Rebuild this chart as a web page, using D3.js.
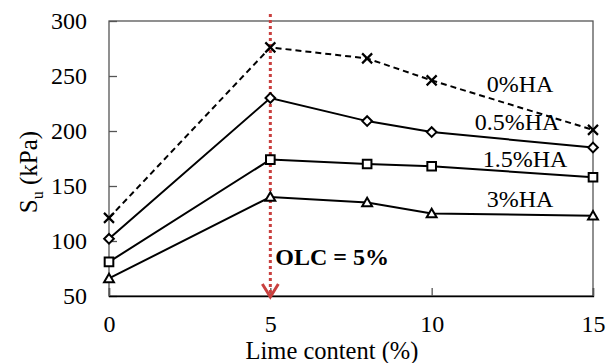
<!DOCTYPE html>
<html><head><meta charset="utf-8">
<script src="https://cdn.jsdelivr.net/npm/d3@7"></script>
<style>body{margin:0;background:#fff}svg{display:block}</style>
</head><body>
<svg id="c" width="616" height="363"></svg>
<script>
const limeContent = [0, 5, 8, 10, 15];
const ha0 = [121, 276, 266, 246, 201];
const ha05 = [102, 230, 209, 199, 185];
const ha15 = [81, 174, 170, 168, 158];
const ha3 = [66, 140, 135, 125, 123];
const seriesNames = ["0%HA", "0.5%HA", "1.5%HA", "3%HA"];
const xTicks = [0, 5, 10, 15];
const yTicks = [50, 100, 150, 200, 250, 300];
const olc = 5;

const FONT = "'Liberation Serif', 'Times New Roman', Tinos, serif";
const svg = d3.select("#c");
const x = d3.scaleLinear().domain([0, 15]).range([109, 593]);
const y = d3.scaleLinear().domain([50, 300]).range([296, 21]);
const fs = 24;

// frame
svg.append("rect").attr("x", x(0)).attr("y", y(300)).attr("width", x(15) - x(0)).attr("height", y(50) - y(300))
  .attr("fill", "none").attr("stroke", "#555").attr("stroke-width", 1.3);

// y axis
const yAxis = d3.axisLeft(y).tickValues(yTicks).tickSize(-8).tickPadding(22).tickFormat(d3.format("d"));
const gy = svg.append("g").attr("transform", `translate(${x(0)},0)`).call(yAxis);
gy.select(".domain").remove();
gy.selectAll("line").attr("stroke", "#555").attr("stroke-width", 1.3);
gy.selectAll("text").style("font-size", fs + "px").style("font-family", FONT).attr("fill", "#000");

// x axis
const xAxis = d3.axisBottom(x).tickValues(xTicks).tickSize(-8).tickPadding(19).tickFormat(d3.format("d"));
const gx = svg.append("g").attr("transform", `translate(0,${y(50)})`).call(xAxis);
gx.select(".domain").attr("stroke", "#000").attr("stroke-width", 1.3);
gx.selectAll("line").attr("stroke", "#555").attr("stroke-width", 1.3);
gx.selectAll("text").style("font-size", fs + "px").style("font-family", FONT).attr("fill", "#000");

// axis titles
svg.append("text").attr("x", 332).attr("y", 359).attr("text-anchor", "middle")
  .style("font-size", "24.5px").style("font-family", FONT).text("Lime content (%)");
const yl = svg.append("text").attr("transform", "translate(37,172) rotate(-90)").attr("text-anchor", "middle")
  .style("font-size", "25px").style("font-family", FONT);
yl.append("tspan").text("S");
yl.append("tspan").style("font-size", "16px").attr("dy", 6).text("u");
yl.append("tspan").attr("dy", -6).text(" (kPa)");

// OLC line
const red = "#c9403f";
svg.append("line").attr("x1", x(olc)).attr("x2", x(olc)).attr("y1", 14).attr("y2", y(50))
  .attr("stroke", red).attr("stroke-width", 3).attr("stroke-dasharray", "3,3");
svg.append("path").attr("d", `M${x(olc) - 8},${y(50) - 12} L${x(olc)},${y(50) + 1} L${x(olc) + 8},${y(50) - 12}`)
  .attr("fill", "none").attr("stroke", red).attr("stroke-width", 3);
svg.append("text").attr("x", x(olc) + 5).attr("y", 265).style("font-size", "24px").style("font-family", FONT)
  .style("font-weight", "bold").text("OLC = 5%");

// series
const series = [ha0, ha05, ha15, ha3];
const line = d3.line().x((d, i) => x(limeContent[i])).y(d => y(d));
series.forEach((s, k) => {
  svg.append("path").datum(s).attr("d", line).attr("fill", "none").attr("stroke", "#000").attr("stroke-width", 2)
    .attr("stroke-dasharray", k === 0 ? "6,4" : null);
});

const sym = {
  1: d3.symbol().type(d3.symbolDiamond2).size(60),
  2: d3.symbol().type(d3.symbolSquare2).size(95),
  3: d3.symbol().type(d3.symbolTriangle2).size(70)
};
series.forEach((s, k) => {
  const g = svg.append("g");
  s.forEach((v, i) => {
    const cx = x(limeContent[i]), cy = y(v);
    if (k === 0) {
      const r = 5;
      g.append("path").attr("d", `M${cx - r},${cy - r}L${cx + r},${cy + r}M${cx - r},${cy + r}L${cx + r},${cy - r}`)
        .attr("stroke", "#000").attr("stroke-width", 2.2).attr("fill", "none");
    } else {
      g.append("path").attr("d", sym[k]()).attr("transform", `translate(${cx},${cy + (k === 3 ? 1 : 0)})`)
        .attr("fill", "#fff").attr("stroke", "#000").attr("stroke-width", 2);
    }
  });
});

// series labels
const labelPos = [[520, 92], [517, 130], [525, 167], [520, 207]];
seriesNames.forEach((n, i) => {
  svg.append("text").attr("x", labelPos[i][0]).attr("y", labelPos[i][1]).attr("text-anchor", "middle")
    .style("font-size", fs + "px").style("font-family", FONT).text(n);
});
</script>
</body></html>
